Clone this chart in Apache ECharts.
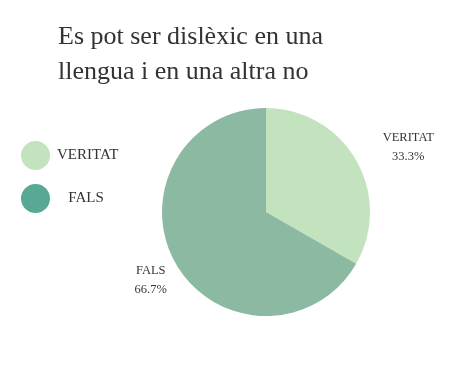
<!DOCTYPE html>
<html><head><meta charset="utf-8">
<script src="https://cdn.jsdelivr.net/npm/echarts@6/dist/echarts.min.js"></script>
<style>html,body{margin:0;padding:0;background:#fff}#c{width:459px;height:369px}</style>
</head><body><div id="c"></div>
<script>
const categories = ['VERITAT', 'FALS'];
const values = [33.3, 66.7];
const pieColors = ['#c3e2be', '#8bb9a1'];
const legendColors = ['#c3e2be', '#57a996'];
const titleText = 'Es pot ser dislèxic en una\nllengua i en una altra no';

const chart = echarts.init(document.getElementById('c'));
chart.setOption({
  backgroundColor: '#ffffff',
  animation: false,
  title: {
    text: titleText,
    left: 53, top: 15,
    textStyle: { fontFamily: 'Liberation Serif', fontWeight: 'normal', fontSize: 26, color: '#333333', lineHeight: 35 }
  },
  legend: {
    orient: 'vertical', left: 16, top: 136,
    icon: 'circle', itemWidth: 29, itemHeight: 29, itemGap: 14,
    textStyle: { fontFamily: 'Liberation Serif', fontSize: 15, color: '#333333', padding: [0, 0, 0, 2] },
    formatter: function (n) { return n === 'FALS' ? '   ' + n : n; },
    data: categories.map((c, i) => ({ name: c, itemStyle: { color: legendColors[i] } }))
  },
  series: [{
    type: 'pie',
    center: [266, 212],
    radius: 104,
    startAngle: 90,
    clockwise: true,
    color: pieColors,
    data: categories.map((c, i) => ({ name: c, value: values[i] })),
    label: {
      show: true, position: 'outside',
      formatter: '{b}\n{d}%',
      fontFamily: 'Liberation Serif', fontSize: 12.5, color: '#333333', lineHeight: 19
    },
    labelLine: { show: false, length: 28, length2: 10 },
    labelLayout: function (p) {
      return p.dataIndex === 0 ? { align: 'center', dx: 13, dy: 1 } : { align: 'center', dx: 14, dy: 2 };
    }
  }]
});
</script></body></html>
